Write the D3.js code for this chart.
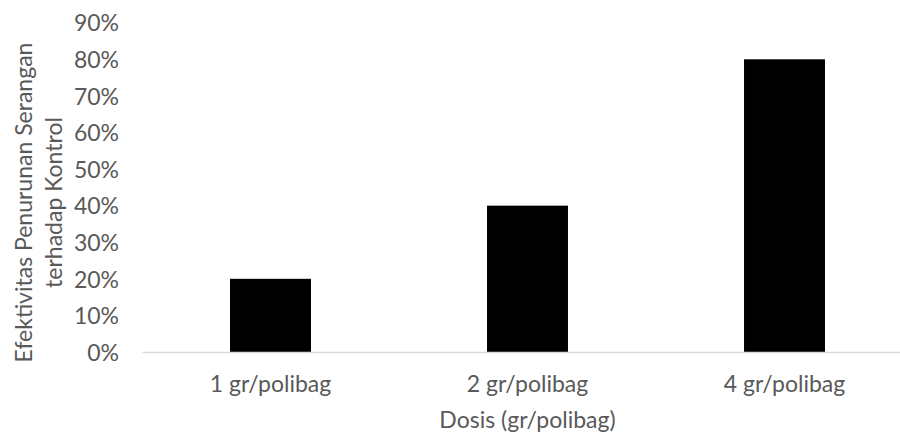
<!DOCTYPE html>
<html>
<head>
<meta charset="utf-8">
<script src="https://cdn.jsdelivr.net/npm/d3@7"></script>
<style>
  html, body { margin: 0; padding: 0; background: #fff; }
  svg { display: block; }
  text { font-family: Lato, "Open Sans", sans-serif; fill: #595959; }
</style>
</head>
<body>
<svg id="chart" width="900" height="436"></svg>
<script>
// Dose categories and effectiveness of attack reduction relative to control
const categories = ["1 gr/polibag", "2 gr/polibag", "4 gr/polibag"];
const values = [0.20, 0.40, 0.80];
const yTicks = [0, 0.1, 0.2, 0.3, 0.4, 0.5, 0.6, 0.7, 0.8, 0.9];
const yTitleLines = ["Efektivitas Penurunan Serangan", "terhadap Kontrol"];
const xTitle = "Dosis (gr/polibag)";

const svg = d3.select("#chart");
const fontSize = 23;

const x = d3.scaleBand()
  .domain(categories)
  .range([142, 913])
  .paddingInner(0.685)
  .paddingOuter(0.3425);

const y = d3.scaleLinear()
  .domain([0, 0.9])
  .range([352, 22.7]);

// Bars
svg.append("g")
  .selectAll("rect")
  .data(values)
  .join("rect")
  .attr("x", (d, i) => x(categories[i]))
  .attr("y", d => y(d))
  .attr("width", x.bandwidth())
  .attr("height", d => y(0) - y(d))
  .attr("fill", "#000");

// Category axis
const xAxis = svg.append("g")
  .attr("transform", `translate(0,${y(0)})`)
  .call(d3.axisBottom(x).tickSize(0));
xAxis.select(".domain").attr("stroke", "#d9d9d9").attr("stroke-width", 1.5);
xAxis.selectAll("text")
  .attr("font-size", fontSize)
  .attr("font-family", null)
  .attr("dy", null)
  .attr("y", 40);

// Value axis (labels only)
const yAxis = svg.append("g")
  .attr("transform", "translate(119,0)")
  .call(d3.axisLeft(y).tickValues(yTicks).tickFormat(d3.format(".0%")).tickSize(0).tickPadding(0));
yAxis.select(".domain").remove();
yAxis.selectAll("text")
  .attr("font-size", fontSize)
  .attr("font-family", null)
  .attr("dy", "0.36em");

// Axis titles
svg.append("text")
  .attr("x", 527.5)
  .attr("y", 428)
  .attr("text-anchor", "middle")
  .attr("font-size", fontSize)
  .text(xTitle);

const yTitle = svg.append("text")
  .attr("transform", "translate(0,202.5) rotate(-90)")
  .attr("text-anchor", "middle")
  .attr("font-size", fontSize);
yTitle.selectAll("tspan")
  .data(yTitleLines)
  .join("tspan")
  .attr("x", 0)
  .attr("y", (d, i) => 31.5 + i * 30)
  .text(d => d);
</script>
</body>
</html>
